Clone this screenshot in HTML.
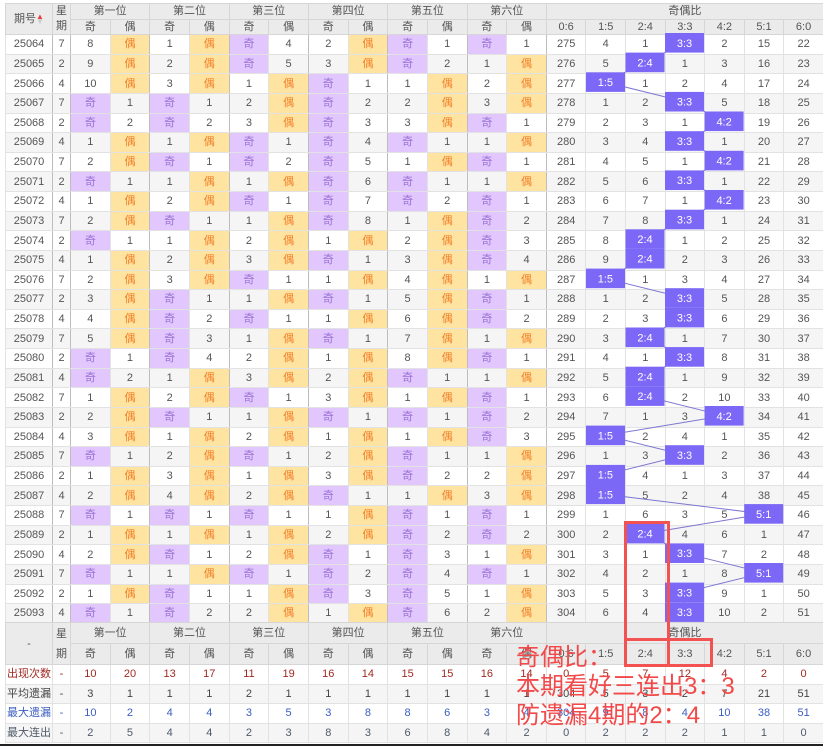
<!DOCTYPE html>
<html><head><meta charset="utf-8">
<style>
*{margin:0;padding:0;box-sizing:border-box}
body{width:823px;height:746px;background:#fff;position:relative;overflow:hidden;font-family:"Liberation Sans","Noto Sans CJK SC",sans-serif;font-size:11px;color:#555}
table{position:absolute;left:5px;border-collapse:collapse;table-layout:fixed;width:818px}
td{text-align:center;vertical-align:middle;border:1px solid #e2e2e2;padding:0;overflow:hidden;white-space:nowrap;line-height:12px}
#t1{top:3px}
#t2{top:622px}
.h td{background:#ebebeb;height:15px;border-color:#d6d6d6}
.h2 td{height:21px}
.d td{height:19.63px}
.d.a td{background:#f5f5f5}
.d td.j{background:#e1c7fd;color:#9b70d6}
.d td.o{background:#ffe4a1;color:#f2802a}
.d.s td{border-top:1px solid #a8a8a8}
.d td:nth-child(1),.d td:nth-child(2),.d td:nth-child(4),.d td:nth-child(6),.d td:nth-child(8),.d td:nth-child(10),.d td:nth-child(12),.d td:nth-child(14){border-right:1px solid #bdbdbd}
.f td{height:19.5px}
.f.a td{background:#f5f5f5}
.r1 td{color:#a02a22}
.r2 td{color:#444}
.r3 td{color:#3a5dc0}
.r4 td{color:#4e5a6a}
.arr{color:#e84040;font-size:8px;line-height:5px;display:inline-block;vertical-align:middle}
.note{position:absolute;left:516px;top:643px;font-family:"Liberation Sans","Noto Sans CJK SC",sans-serif;font-size:24px;line-height:29px;color:#f24a4a;white-space:nowrap}
.rb{position:absolute;border:3px solid #f25252}
</style></head><body>
<table id="t1">
<colgroup><col style="width:47px"><col style="width:18px"><col span="12" style="width:39.67px"><col span="7" style="width:39.57px"></colgroup>
<tr class="h"><td rowspan="2">期号<span class="arr">▲<br><span style="color:#ccc">▼</span></span></td><td rowspan="2" style="line-height:15px">星<br>期</td><td colspan="2">第一位</td><td colspan="2">第二位</td><td colspan="2">第三位</td><td colspan="2">第四位</td><td colspan="2">第五位</td><td colspan="2">第六位</td><td colspan="7">奇偶比</td></tr>
<tr class="h"><td>奇</td><td>偶</td><td>奇</td><td>偶</td><td>奇</td><td>偶</td><td>奇</td><td>偶</td><td>奇</td><td>偶</td><td>奇</td><td>偶</td><td>0:6</td><td>1:5</td><td>2:4</td><td>3:3</td><td>4:2</td><td>5:1</td><td>6:0</td></tr>
<tr class="d"><td>25064</td><td>7</td><td>8</td><td class="o">偶</td><td>1</td><td class="o">偶</td><td class="j">奇</td><td>4</td><td>2</td><td class="o">偶</td><td class="j">奇</td><td>1</td><td class="j">奇</td><td>1</td><td>275</td><td>4</td><td>1</td><td>3:3</td><td>2</td><td>15</td><td>22</td></tr>
<tr class="d a"><td>25065</td><td>2</td><td>9</td><td class="o">偶</td><td>2</td><td class="o">偶</td><td class="j">奇</td><td>5</td><td>3</td><td class="o">偶</td><td class="j">奇</td><td>2</td><td>1</td><td class="o">偶</td><td>276</td><td>5</td><td>2:4</td><td>1</td><td>3</td><td>16</td><td>23</td></tr>
<tr class="d"><td>25066</td><td>4</td><td>10</td><td class="o">偶</td><td>3</td><td class="o">偶</td><td>1</td><td class="o">偶</td><td class="j">奇</td><td>1</td><td>1</td><td class="o">偶</td><td>2</td><td class="o">偶</td><td>277</td><td>1:5</td><td>1</td><td>2</td><td>4</td><td>17</td><td>24</td></tr>
<tr class="d a"><td>25067</td><td>7</td><td class="j">奇</td><td>1</td><td class="j">奇</td><td>1</td><td>2</td><td class="o">偶</td><td class="j">奇</td><td>2</td><td>2</td><td class="o">偶</td><td>3</td><td class="o">偶</td><td>278</td><td>1</td><td>2</td><td>3:3</td><td>5</td><td>18</td><td>25</td></tr>
<tr class="d"><td>25068</td><td>2</td><td class="j">奇</td><td>2</td><td class="j">奇</td><td>2</td><td>3</td><td class="o">偶</td><td class="j">奇</td><td>3</td><td>3</td><td class="o">偶</td><td class="j">奇</td><td>1</td><td>279</td><td>2</td><td>3</td><td>1</td><td>4:2</td><td>19</td><td>26</td></tr>
<tr class="d a s"><td>25069</td><td>4</td><td>1</td><td class="o">偶</td><td>1</td><td class="o">偶</td><td class="j">奇</td><td>1</td><td class="j">奇</td><td>4</td><td class="j">奇</td><td>1</td><td>1</td><td class="o">偶</td><td>280</td><td>3</td><td>4</td><td>3:3</td><td>1</td><td>20</td><td>27</td></tr>
<tr class="d"><td>25070</td><td>7</td><td>2</td><td class="o">偶</td><td class="j">奇</td><td>1</td><td class="j">奇</td><td>2</td><td class="j">奇</td><td>5</td><td>1</td><td class="o">偶</td><td class="j">奇</td><td>1</td><td>281</td><td>4</td><td>5</td><td>1</td><td>4:2</td><td>21</td><td>28</td></tr>
<tr class="d a"><td>25071</td><td>2</td><td class="j">奇</td><td>1</td><td>1</td><td class="o">偶</td><td>1</td><td class="o">偶</td><td class="j">奇</td><td>6</td><td class="j">奇</td><td>1</td><td>1</td><td class="o">偶</td><td>282</td><td>5</td><td>6</td><td>3:3</td><td>1</td><td>22</td><td>29</td></tr>
<tr class="d"><td>25072</td><td>4</td><td>1</td><td class="o">偶</td><td>2</td><td class="o">偶</td><td class="j">奇</td><td>1</td><td class="j">奇</td><td>7</td><td class="j">奇</td><td>2</td><td class="j">奇</td><td>1</td><td>283</td><td>6</td><td>7</td><td>1</td><td>4:2</td><td>23</td><td>30</td></tr>
<tr class="d a"><td>25073</td><td>7</td><td>2</td><td class="o">偶</td><td class="j">奇</td><td>1</td><td>1</td><td class="o">偶</td><td class="j">奇</td><td>8</td><td>1</td><td class="o">偶</td><td class="j">奇</td><td>2</td><td>284</td><td>7</td><td>8</td><td>3:3</td><td>1</td><td>24</td><td>31</td></tr>
<tr class="d s"><td>25074</td><td>2</td><td class="j">奇</td><td>1</td><td>1</td><td class="o">偶</td><td>2</td><td class="o">偶</td><td>1</td><td class="o">偶</td><td>2</td><td class="o">偶</td><td class="j">奇</td><td>3</td><td>285</td><td>8</td><td>2:4</td><td>1</td><td>2</td><td>25</td><td>32</td></tr>
<tr class="d a"><td>25075</td><td>4</td><td>1</td><td class="o">偶</td><td>2</td><td class="o">偶</td><td>3</td><td class="o">偶</td><td class="j">奇</td><td>1</td><td>3</td><td class="o">偶</td><td class="j">奇</td><td>4</td><td>286</td><td>9</td><td>2:4</td><td>2</td><td>3</td><td>26</td><td>33</td></tr>
<tr class="d"><td>25076</td><td>7</td><td>2</td><td class="o">偶</td><td>3</td><td class="o">偶</td><td class="j">奇</td><td>1</td><td>1</td><td class="o">偶</td><td>4</td><td class="o">偶</td><td>1</td><td class="o">偶</td><td>287</td><td>1:5</td><td>1</td><td>3</td><td>4</td><td>27</td><td>34</td></tr>
<tr class="d a"><td>25077</td><td>2</td><td>3</td><td class="o">偶</td><td class="j">奇</td><td>1</td><td>1</td><td class="o">偶</td><td class="j">奇</td><td>1</td><td>5</td><td class="o">偶</td><td class="j">奇</td><td>1</td><td>288</td><td>1</td><td>2</td><td>3:3</td><td>5</td><td>28</td><td>35</td></tr>
<tr class="d"><td>25078</td><td>4</td><td>4</td><td class="o">偶</td><td class="j">奇</td><td>2</td><td class="j">奇</td><td>1</td><td>1</td><td class="o">偶</td><td>6</td><td class="o">偶</td><td class="j">奇</td><td>2</td><td>289</td><td>2</td><td>3</td><td>3:3</td><td>6</td><td>29</td><td>36</td></tr>
<tr class="d a s"><td>25079</td><td>7</td><td>5</td><td class="o">偶</td><td class="j">奇</td><td>3</td><td>1</td><td class="o">偶</td><td class="j">奇</td><td>1</td><td>7</td><td class="o">偶</td><td>1</td><td class="o">偶</td><td>290</td><td>3</td><td>2:4</td><td>1</td><td>7</td><td>30</td><td>37</td></tr>
<tr class="d"><td>25080</td><td>2</td><td class="j">奇</td><td>1</td><td class="j">奇</td><td>4</td><td>2</td><td class="o">偶</td><td>1</td><td class="o">偶</td><td>8</td><td class="o">偶</td><td class="j">奇</td><td>1</td><td>291</td><td>4</td><td>1</td><td>3:3</td><td>8</td><td>31</td><td>38</td></tr>
<tr class="d a"><td>25081</td><td>4</td><td class="j">奇</td><td>2</td><td>1</td><td class="o">偶</td><td>3</td><td class="o">偶</td><td>2</td><td class="o">偶</td><td class="j">奇</td><td>1</td><td>1</td><td class="o">偶</td><td>292</td><td>5</td><td>2:4</td><td>1</td><td>9</td><td>32</td><td>39</td></tr>
<tr class="d"><td>25082</td><td>7</td><td>1</td><td class="o">偶</td><td>2</td><td class="o">偶</td><td class="j">奇</td><td>1</td><td>3</td><td class="o">偶</td><td>1</td><td class="o">偶</td><td class="j">奇</td><td>1</td><td>293</td><td>6</td><td>2:4</td><td>2</td><td>10</td><td>33</td><td>40</td></tr>
<tr class="d a"><td>25083</td><td>2</td><td>2</td><td class="o">偶</td><td class="j">奇</td><td>1</td><td>1</td><td class="o">偶</td><td class="j">奇</td><td>1</td><td class="j">奇</td><td>1</td><td class="j">奇</td><td>2</td><td>294</td><td>7</td><td>1</td><td>3</td><td>4:2</td><td>34</td><td>41</td></tr>
<tr class="d s"><td>25084</td><td>4</td><td>3</td><td class="o">偶</td><td>1</td><td class="o">偶</td><td>2</td><td class="o">偶</td><td>1</td><td class="o">偶</td><td>1</td><td class="o">偶</td><td class="j">奇</td><td>3</td><td>295</td><td>1:5</td><td>2</td><td>4</td><td>1</td><td>35</td><td>42</td></tr>
<tr class="d a"><td>25085</td><td>7</td><td class="j">奇</td><td>1</td><td>2</td><td class="o">偶</td><td class="j">奇</td><td>1</td><td>2</td><td class="o">偶</td><td class="j">奇</td><td>1</td><td>1</td><td class="o">偶</td><td>296</td><td>1</td><td>3</td><td>3:3</td><td>2</td><td>36</td><td>43</td></tr>
<tr class="d"><td>25086</td><td>2</td><td>1</td><td class="o">偶</td><td>3</td><td class="o">偶</td><td>1</td><td class="o">偶</td><td>3</td><td class="o">偶</td><td class="j">奇</td><td>2</td><td>2</td><td class="o">偶</td><td>297</td><td>1:5</td><td>4</td><td>1</td><td>3</td><td>37</td><td>44</td></tr>
<tr class="d a"><td>25087</td><td>4</td><td>2</td><td class="o">偶</td><td>4</td><td class="o">偶</td><td>2</td><td class="o">偶</td><td class="j">奇</td><td>1</td><td>1</td><td class="o">偶</td><td>3</td><td class="o">偶</td><td>298</td><td>1:5</td><td>5</td><td>2</td><td>4</td><td>38</td><td>45</td></tr>
<tr class="d"><td>25088</td><td>7</td><td class="j">奇</td><td>1</td><td class="j">奇</td><td>1</td><td class="j">奇</td><td>1</td><td>1</td><td class="o">偶</td><td class="j">奇</td><td>1</td><td class="j">奇</td><td>1</td><td>299</td><td>1</td><td>6</td><td>3</td><td>5</td><td>5:1</td><td>46</td></tr>
<tr class="d a s"><td>25089</td><td>2</td><td>1</td><td class="o">偶</td><td>1</td><td class="o">偶</td><td>1</td><td class="o">偶</td><td>2</td><td class="o">偶</td><td class="j">奇</td><td>2</td><td class="j">奇</td><td>2</td><td>300</td><td>2</td><td>2:4</td><td>4</td><td>6</td><td>1</td><td>47</td></tr>
<tr class="d"><td>25090</td><td>4</td><td>2</td><td class="o">偶</td><td class="j">奇</td><td>1</td><td>2</td><td class="o">偶</td><td class="j">奇</td><td>1</td><td class="j">奇</td><td>3</td><td>1</td><td class="o">偶</td><td>301</td><td>3</td><td>1</td><td>3:3</td><td>7</td><td>2</td><td>48</td></tr>
<tr class="d a"><td>25091</td><td>7</td><td class="j">奇</td><td>1</td><td>1</td><td class="o">偶</td><td class="j">奇</td><td>1</td><td class="j">奇</td><td>2</td><td class="j">奇</td><td>4</td><td class="j">奇</td><td>1</td><td>302</td><td>4</td><td>2</td><td>1</td><td>8</td><td>5:1</td><td>49</td></tr>
<tr class="d"><td>25092</td><td>2</td><td>1</td><td class="o">偶</td><td class="j">奇</td><td>1</td><td>1</td><td class="o">偶</td><td class="j">奇</td><td>3</td><td class="j">奇</td><td>5</td><td>1</td><td class="o">偶</td><td>303</td><td>5</td><td>3</td><td>3:3</td><td>9</td><td>1</td><td>50</td></tr>
<tr class="d a"><td>25093</td><td>4</td><td class="j">奇</td><td>1</td><td class="j">奇</td><td>2</td><td>2</td><td class="o">偶</td><td>1</td><td class="o">偶</td><td class="j">奇</td><td>6</td><td>2</td><td class="o">偶</td><td>304</td><td>6</td><td>4</td><td>3:3</td><td>10</td><td>2</td><td>51</td></tr>
</table>

<table id="t2">
<colgroup><col style="width:47px"><col style="width:18px"><col span="12" style="width:39.67px"><col span="7" style="width:39.57px"></colgroup>
<tr class="h h2"><td rowspan="2">-</td><td rowspan="2" style="line-height:20px">星<br>期</td><td colspan="2">第一位</td><td colspan="2">第二位</td><td colspan="2">第三位</td><td colspan="2">第四位</td><td colspan="2">第五位</td><td colspan="2">第六位</td><td colspan="7">奇偶比</td></tr>
<tr class="h h2"><td>奇</td><td>偶</td><td>奇</td><td>偶</td><td>奇</td><td>偶</td><td>奇</td><td>偶</td><td>奇</td><td>偶</td><td>奇</td><td>偶</td><td>0:6</td><td>1:5</td><td>2:4</td><td>3:3</td><td>4:2</td><td>5:1</td><td>6:0</td></tr>
<tr class="f r1"><td>出现次数</td><td>-</td><td>10</td><td>20</td><td>13</td><td>17</td><td>11</td><td>19</td><td>16</td><td>14</td><td>15</td><td>15</td><td>16</td><td>14</td><td>0</td><td>5</td><td>7</td><td>12</td><td>4</td><td>2</td><td>0</td></tr>
<tr class="f a r2"><td>平均遗漏</td><td>-</td><td>3</td><td>1</td><td>1</td><td>1</td><td>2</td><td>1</td><td>1</td><td>1</td><td>1</td><td>1</td><td>1</td><td>1</td><td>304</td><td>5</td><td>3</td><td>2</td><td>7</td><td>21</td><td>51</td></tr>
<tr class="f r3"><td>最大遗漏</td><td>-</td><td>10</td><td>2</td><td>4</td><td>4</td><td>3</td><td>5</td><td>3</td><td>8</td><td>8</td><td>6</td><td>3</td><td>4</td><td>304</td><td>9</td><td>8</td><td>4</td><td>10</td><td>38</td><td>51</td></tr>
<tr class="f a r4"><td>最大连出</td><td>-</td><td>2</td><td>5</td><td>4</td><td>4</td><td>2</td><td>3</td><td>8</td><td>3</td><td>6</td><td>8</td><td>4</td><td>2</td><td>0</td><td>2</td><td>2</td><td>2</td><td>1</td><td>1</td><td>0</td></tr>
</table>

<svg style="position:absolute;left:0;top:0" width="823" height="746">
<polyline fill="none" stroke="#7d76d1" stroke-width="1" points="684.5,42.8 645,62.4 605.4,82.1 684.5,101.7 724.1,121.3 684.5,141 724.1,160.6 684.5,180.2 724.1,199.8 684.5,219.5 645,239.1 645,258.7 605.4,278.4 684.5,298 684.5,317.6 645,337.3 684.5,356.9 645,376.5 645,396.1 724.1,415.8 605.4,435.4 684.5,455 605.4,474.7 605.4,494.3 763.7,513.9 645,533.6 684.5,553.2 763.7,572.8 684.5,592.4 684.5,612.1"/>
<g fill="#7b68f7">
<rect x="665" y="33" width="39" height="19.6"/>
<rect x="625.5" y="52.6" width="39" height="19.6"/>
<rect x="586" y="72.3" width="39" height="19.6"/>
<rect x="665" y="91.9" width="39" height="19.6"/>
<rect x="704.6" y="111.5" width="39" height="19.6"/>
<rect x="665" y="131.2" width="39" height="19.6"/>
<rect x="704.6" y="150.8" width="39" height="19.6"/>
<rect x="665" y="170.4" width="39" height="19.6"/>
<rect x="704.6" y="190" width="39" height="19.6"/>
<rect x="665" y="209.7" width="39" height="19.6"/>
<rect x="625.5" y="229.3" width="39" height="19.6"/>
<rect x="625.5" y="248.9" width="39" height="19.6"/>
<rect x="586" y="268.6" width="39" height="19.6"/>
<rect x="665" y="288.2" width="39" height="19.6"/>
<rect x="665" y="307.8" width="39" height="19.6"/>
<rect x="625.5" y="327.5" width="39" height="19.6"/>
<rect x="665" y="347.1" width="39" height="19.6"/>
<rect x="625.5" y="366.7" width="39" height="19.6"/>
<rect x="625.5" y="386.3" width="39" height="19.6"/>
<rect x="704.6" y="406" width="39" height="19.6"/>
<rect x="586" y="425.6" width="39" height="19.6"/>
<rect x="665" y="445.2" width="39" height="19.6"/>
<rect x="586" y="464.9" width="39" height="19.6"/>
<rect x="586" y="484.5" width="39" height="19.6"/>
<rect x="744.2" y="504.1" width="39" height="19.6"/>
<rect x="625.5" y="523.8" width="39" height="19.6"/>
<rect x="665" y="543.4" width="39" height="19.6"/>
<rect x="744.2" y="563" width="39" height="19.6"/>
<rect x="665" y="582.6" width="39" height="19.6"/>
<rect x="665" y="602.3" width="39" height="19.6"/>
</g>
<g fill="#fff" font-family="Liberation Sans, sans-serif" font-size="11" text-anchor="middle">
<text x="684.5" y="46.8">3:3</text>
<text x="645" y="66.4">2:4</text>
<text x="605.4" y="86.1">1:5</text>
<text x="684.5" y="105.7">3:3</text>
<text x="724.1" y="125.3">4:2</text>
<text x="684.5" y="145">3:3</text>
<text x="724.1" y="164.6">4:2</text>
<text x="684.5" y="184.2">3:3</text>
<text x="724.1" y="203.8">4:2</text>
<text x="684.5" y="223.5">3:3</text>
<text x="645" y="243.1">2:4</text>
<text x="645" y="262.7">2:4</text>
<text x="605.4" y="282.4">1:5</text>
<text x="684.5" y="302">3:3</text>
<text x="684.5" y="321.6">3:3</text>
<text x="645" y="341.3">2:4</text>
<text x="684.5" y="360.9">3:3</text>
<text x="645" y="380.5">2:4</text>
<text x="645" y="400.1">2:4</text>
<text x="724.1" y="419.8">4:2</text>
<text x="605.4" y="439.4">1:5</text>
<text x="684.5" y="459">3:3</text>
<text x="605.4" y="478.7">1:5</text>
<text x="605.4" y="498.3">1:5</text>
<text x="763.7" y="517.9">5:1</text>
<text x="645" y="537.6">2:4</text>
<text x="684.5" y="557.2">3:3</text>
<text x="763.7" y="576.8">5:1</text>
<text x="684.5" y="596.4">3:3</text>
<text x="684.5" y="616.1">3:3</text>
</g>
</svg>

<div class="rb" style="left:624px;top:521px;width:46px;height:146px"></div>
<div class="rb" style="left:624px;top:638px;width:89px;height:29px"></div>
<div class="note">奇偶比：<br>本期看好三连出3：3<br>防遗漏4期的2：4</div>
<div style="position:absolute;left:0;top:744px;width:823px;height:2px;background:#222"></div>
</body></html>
